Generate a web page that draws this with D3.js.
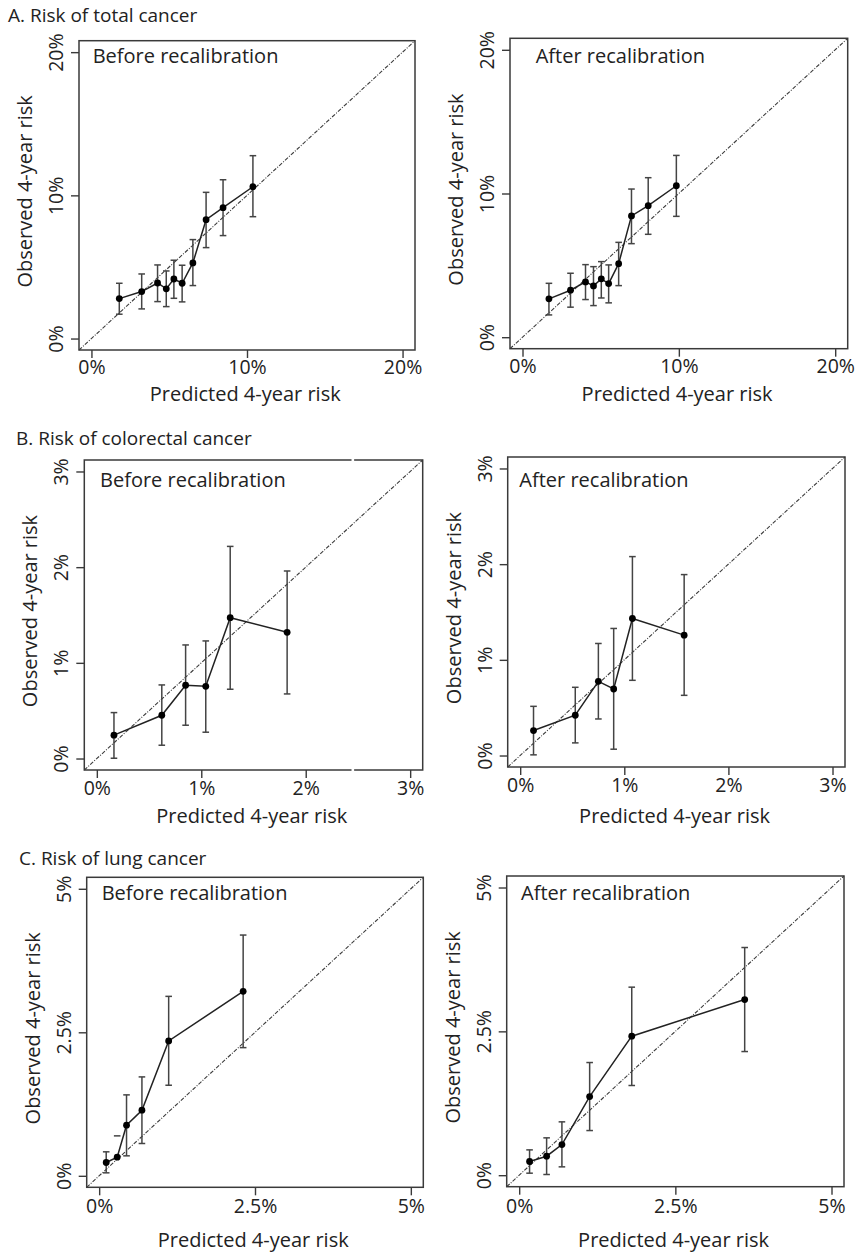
<!DOCTYPE html>
<html>
<head>
<meta charset="utf-8">
<script src="https://cdn.jsdelivr.net/npm/d3@7"></script>
<style>
  html, body { margin: 0; padding: 0; background: #fff; }
  svg { display: block; }
  text { font-family: "Open Sans", "Noto Sans", sans-serif; fill: #222; }
</style>
</head>
<body>
<svg id="chart" width="857" height="1254"></svg>
<script>
// ---------------- DATA (percent) ----------------
const sectionTitles = ["A. Risk of total cancer", "B. Risk of colorectal cancer", "C. Risk of lung cancer"];
const panelLabels = ["Before recalibration", "After recalibration"];
const xAxisTitle = "Predicted 4-year risk";
const yAxisTitle = "Observed 4-year risk";

const totalTicks = [0, 10, 20];
const totalTickLabels = ["0%", "10%", "20%"];
const colTicks = [0, 1, 2, 3];
const colTickLabels = ["0%", "1%", "2%", "3%"];
const lungTicks = [0, 2.5, 5];
const lungTickLabels = ["0%", "2.5%", "5%"];

const totalBeforePred = [1.79, 3.23, 4.25, 4.81, 5.30, 5.83, 6.52, 7.37, 8.46, 10.38];
const totalBeforeObs  = [2.79, 3.28, 3.88, 3.47, 4.16, 3.86, 5.28, 8.30, 9.14, 10.60];
const totalBeforeLo   = [1.70, 2.07, 2.58, 2.23, 2.81, 2.56, 3.70, 6.35, 7.19, 8.51];
const totalBeforeHi   = [3.86, 4.51, 5.14, 4.72, 5.47, 5.12, 6.91, 10.21, 11.09, 12.77];

const totalAfterPred = [1.69, 3.07, 4.03, 4.54, 5.04, 5.51, 6.15, 6.97, 8.04, 9.84];
const totalAfterObs  = [2.67, 3.27, 3.85, 3.57, 4.06, 3.73, 5.12, 8.44, 9.15, 10.54];
const totalAfterLo   = [1.55, 2.09, 2.62, 2.20, 2.73, 2.39, 3.59, 6.51, 7.16, 8.41];
const totalAfterHi   = [3.75, 4.45, 5.05, 4.91, 5.26, 5.03, 6.60, 10.31, 11.10, 12.65];

const colBeforePred = [0.164, 0.622, 0.850, 1.043, 1.277, 1.822];
const colBeforeObs  = [0.244, 0.452, 0.766, 0.755, 1.472, 1.319];
const colBeforeLo   = [0.003, 0.139, 0.348, 0.275, 0.724, 0.675];
const colBeforeHi   = [0.480, 0.769, 1.187, 1.229, 2.217, 1.960];

const colAfterPred = [0.128, 0.529, 0.751, 0.898, 1.078, 1.575];
const colAfterObs  = [0.261, 0.421, 0.775, 0.695, 1.432, 1.258];
const colAfterLo   = [0.007, 0.132, 0.382, 0.066, 0.786, 0.629];
const colAfterHi   = [0.514, 0.713, 1.171, 1.328, 2.079, 1.891];

const lungBeforePred = [0.113, 0.289, 0.439, 0.686, 1.115, 2.310];
const lungBeforeObs  = [0.232, 0.325, 0.882, 1.143, 2.349, 3.213];
const lungBeforeLo   = [0.052, null, 0.348, 0.563, 1.578, 2.233];
const lungBeforeHi   = [0.418, 0.696, 1.410, 1.723, 3.126, 4.194];

const lungAfterPred = [0.166, 0.439, 0.684, 1.128, 1.802, 3.610];
const lungAfterObs  = [0.238, 0.330, 0.533, 1.367, 2.416, 3.053];
const lungAfterLo   = [0.035, 0.012, 0.145, 0.776, 1.559, 2.149];
const lungAfterHi   = [0.440, 0.649, 0.927, 1.958, 3.268, 3.957];

// ---------------- LAYOUT ----------------
const svg = d3.select("#chart");

function zip(pred, obs, lo, hi) {
  return pred.map((p, i) => ({ p, o: obs[i], lo: lo[i], hi: hi[i] }));
}

const panels = [
  { frame: [79, 40.7, 415, 350], max: 20, ticks: totalTicks, labels: totalTickLabels, label: panelLabels[0],
    labelPos: [92.7, 63.3], tickOff: 24, titleOff: 51, data: zip(totalBeforePred, totalBeforeObs, totalBeforeLo, totalBeforeHi) },
  { frame: [510, 38.3, 847.7, 348.7], max: 20, ticks: totalTicks, labels: totalTickLabels, label: panelLabels[1],
    labelPos: [535.7, 63.3], tickOff: 24, titleOff: 52, data: zip(totalAfterPred, totalAfterObs, totalAfterLo, totalAfterHi) },
  { frame: [84.3, 460, 422.7, 770], max: 3, ticks: colTicks, labels: colTickLabels, label: panelLabels[0],
    labelPos: [100, 486.7], tickOff: 25, titleOff: 53, gap: 2.45, data: zip(colBeforePred, colBeforeObs, colBeforeLo, colBeforeHi) },
  { frame: [507.7, 457, 845, 767], max: 3, ticks: colTicks, labels: colTickLabels, label: panelLabels[1],
    labelPos: [519.3, 486.7], tickOff: 25, titleOff: 56, data: zip(colAfterPred, colAfterObs, colAfterLo, colAfterHi) },
  { frame: [86.7, 877.3, 423.3, 1187.3], max: 5, ticks: lungTicks, labels: lungTickLabels, label: panelLabels[0],
    labelPos: [101.7, 900], tickOff: 26, titleOff: 60, data: zip(lungBeforePred, lungBeforeObs, lungBeforeLo, lungBeforeHi) },
  { frame: [506.7, 876, 844, 1186.7], max: 5, ticks: lungTicks, labels: lungTickLabels, label: panelLabels[1],
    labelPos: [521, 900], tickOff: 26, titleOff: 60, data: zip(lungAfterPred, lungAfterObs, lungAfterLo, lungAfterHi) }
];

const sectionPos = [[8, 22], [16, 445], [19, 865]];
sectionTitles.forEach((t, i) => {
  svg.append("text").attr("x", sectionPos[i][0]).attr("y", sectionPos[i][1])
    .attr("font-size", 19).text(t);
});

const frameColor = "#3a3a3a";
const tickFont = 19.5;
const titleFont = 20;

panels.forEach(pn => {
  const [x0, y0, x1, y1] = pn.frame;
  const pad = pn.max * 0.04;
  const x = d3.scaleLinear().domain([-pad, pn.max + pad]).range([x0, x1]);
  const y = d3.scaleLinear().domain([-pad, pn.max + pad]).range([y1, y0]);
  const g = svg.append("g");

  // diagonal reference
  g.append("line")
    .attr("x1", x(-pad)).attr("y1", y(-pad)).attr("x2", x(pn.max + pad)).attr("y2", y(pn.max + pad))
    .attr("stroke", "#3c3c3c").attr("stroke-width", 1.1)
    .attr("stroke-dasharray", "4,1.5,1,1.5");

  // x axis
  const fmt = (d) => pn.labels[pn.ticks.indexOf(d)];
  const xa = g.append("g").attr("transform", `translate(0,${y1})`)
    .call(d3.axisBottom(x).tickValues(pn.ticks).tickFormat(fmt).tickSize(8).tickPadding(6));
  xa.select(".domain").remove();
  xa.selectAll(".tick line").attr("stroke", frameColor).attr("stroke-width", 1.4);
  xa.selectAll(".tick text").attr("font-size", tickFont).attr("fill", "#222")
    .attr("font-family", '"Open Sans", "Noto Sans", sans-serif')
    .attr("dy", 0).attr("y", pn.tickOff);

  // y axis
  const ya = g.append("g").attr("transform", `translate(${x0},0)`)
    .call(d3.axisLeft(y).tickValues(pn.ticks).tickFormat(fmt).tickSize(8));
  ya.select(".domain").remove();
  ya.selectAll(".tick line").attr("stroke", frameColor).attr("stroke-width", 1.4);
  ya.selectAll(".tick text").attr("font-size", tickFont).attr("fill", "#222")
    .attr("font-family", '"Open Sans", "Noto Sans", sans-serif')
    .attr("transform", "rotate(-90)").attr("x", 0).attr("y", -16).attr("dy", 0)
    .attr("text-anchor", "middle");

  // frame
  g.append("rect").attr("x", x0).attr("y", y0).attr("width", x1 - x0).attr("height", y1 - y0)
    .attr("fill", "none").attr("stroke", frameColor).attr("stroke-width", 1.5);

  // seam artifact on frame (as in reference)
  if (pn.gap !== undefined) {
    [y0, y1].forEach(yy => {
      g.append("rect").attr("x", x(pn.gap) - 1.2).attr("y", yy - 2).attr("width", 2.6).attr("height", 4)
        .attr("fill", "#fff");
    });
  }

  // axis titles
  g.append("text").attr("x", (x0 + x1) / 2 + (x(0) - x0) / 2 - 8).attr("y", y1 + pn.titleOff)
    .attr("text-anchor", "middle").attr("font-size", titleFont).text(xAxisTitle);
  const cy = (y(0) + y(pn.max)) / 2 - 4;
  g.append("text").attr("transform", `translate(${x0 - 47},${cy}) rotate(-90)`)
    .attr("text-anchor", "middle").attr("font-size", titleFont).text(yAxisTitle);

  // panel label
  g.append("text").attr("x", pn.labelPos[0]).attr("y", pn.labelPos[1])
    .attr("font-size", titleFont).text(pn.label);

  // error bars
  const capW = 3.3;
  const eb = g.append("g").attr("stroke", "#444").attr("stroke-width", 1.5);
  pn.data.forEach(d => {
    const cx = x(d.p);
    if (d.lo !== null) {
      eb.append("line").attr("x1", cx).attr("x2", cx).attr("y1", y(d.lo)).attr("y2", y(d.hi));
      eb.append("line").attr("x1", cx - capW).attr("x2", cx + capW).attr("y1", y(d.lo)).attr("y2", y(d.lo));
    }
    eb.append("line").attr("x1", cx - capW).attr("x2", cx + capW).attr("y1", y(d.hi)).attr("y2", y(d.hi));
  });

  // connecting line
  g.append("path").datum(pn.data)
    .attr("d", d3.line().x(d => x(d.p)).y(d => y(d.o)))
    .attr("fill", "none").attr("stroke", "#222").attr("stroke-width", 1.5);

  // points
  g.selectAll("circle.pt").data(pn.data).enter().append("circle")
    .attr("cx", d => x(d.p)).attr("cy", d => y(d.o)).attr("r", 3.4).attr("fill", "#000");
});
</script>
</body>
</html>
